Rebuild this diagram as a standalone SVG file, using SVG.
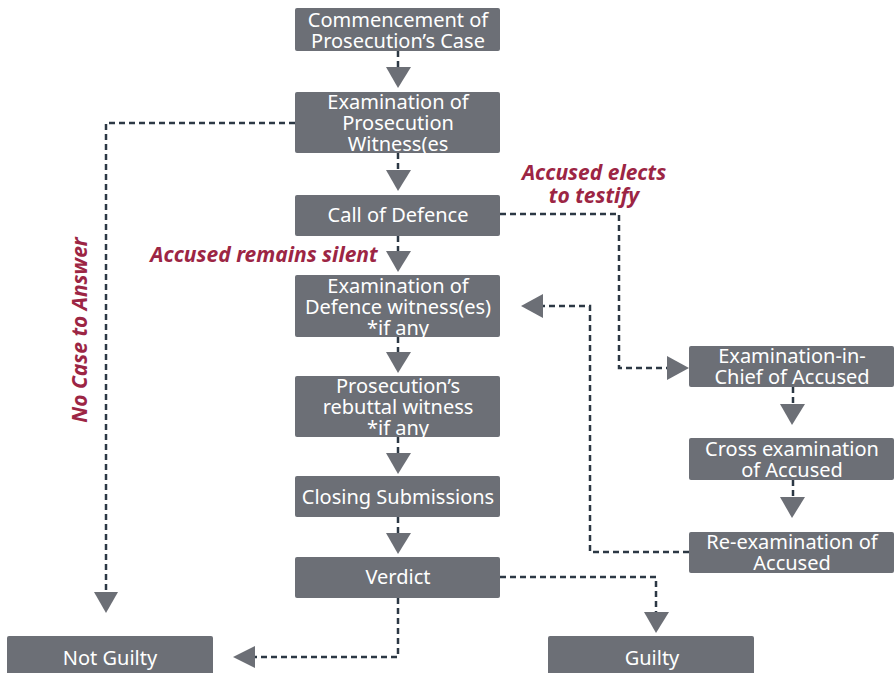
<svg xmlns="http://www.w3.org/2000/svg" width="894" height="673" viewBox="0 0 894 673">
<style>
.box{fill:#6c6f76}
.t{font-family:"Noto Sans","Open Sans",sans-serif;font-size:20px;fill:#fff;text-anchor:middle}
.c{fill:none;stroke:#2c3844;stroke-width:2.5;stroke-dasharray:6 4}
.a{fill:#6c6f76}
.lab{font-family:"Noto Sans","Open Sans",sans-serif;font-size:21px;font-weight:bold;font-style:italic;fill:#9c2544;text-anchor:middle}
</style>
<rect width="894" height="673" fill="#fff"/>
<g id="connectors">
<path class="c" d="M398 51V67"/><polygon class="a" points="386,67 411,67 398,88"/>
<path class="c" d="M398 153V170"/><polygon class="a" points="386,170 411,170 398,191"/>
<path class="c" d="M398 236V251"/><polygon class="a" points="386,251 411,251 398,272"/>
<path class="c" d="M398 337V352"/><polygon class="a" points="386,352 411,352 398,373"/>
<path class="c" d="M398 437V453"/><polygon class="a" points="386,453 411,453 398,474"/>
<path class="c" d="M398 517V533"/><polygon class="a" points="386,533 411,533 398,554"/>
<path class="c" d="M295 123H106V592"/><polygon class="a" points="94,592 118,592 106,613"/>
<path class="c" d="M500 214H619V368H667"/><polygon class="a" points="667,356 667,380 689,368"/>
<path class="c" d="M793 387V404"/><polygon class="a" points="780,404 805,404 792,425"/>
<path class="c" d="M793 480V497"/><polygon class="a" points="780,497 805,497 792,518"/>
<path class="c" d="M689 552H590V306H543"/><polygon class="a" points="543,294 543,318 521,306"/>
<path class="c" d="M500 577H656V612"/><polygon class="a" points="644,612 669,612 656,633"/>
<path class="c" d="M398 598V657H255"/><polygon class="a" points="255,646 255,668 233,657"/>
</g>
<g id="n1"><rect class="box" x="295" y="8" width="205" height="43" rx="2"/><text class="t" x="398" y="27">Commencement of</text><text class="t" x="398" y="48">Prosecution’s Case</text></g>
<g id="n2"><rect class="box" x="295" y="92" width="205" height="61" rx="2"/><text class="t" x="398" y="109">Examination of</text><text class="t" x="398" y="130">Prosecution</text><text class="t" x="398" y="151">Witness(es</text></g>
<g id="n3"><rect class="box" x="295" y="195" width="205" height="41" rx="2"/><text class="t" x="398" y="222">Call of Defence</text></g>
<g id="n4"><rect class="box" x="295" y="275" width="205" height="62" rx="2"/><text class="t" x="398" y="293">Examination of</text><text class="t" x="398" y="314">Defence witness(es)</text><text class="t" x="398" y="335">*if any</text></g>
<g id="n5"><rect class="box" x="295" y="376" width="205" height="61" rx="2"/><text class="t" x="398" y="393">Prosecution’s</text><text class="t" x="398" y="414">rebuttal witness</text><text class="t" x="398" y="435">*if any</text></g>
<g id="n6"><rect class="box" x="295" y="476" width="205" height="41" rx="2"/><text class="t" x="398" y="504">Closing Submissions</text></g>
<g id="n7"><rect class="box" x="295" y="557" width="205" height="41" rx="2"/><text class="t" x="398" y="584">Verdict</text></g>
<g id="n8"><rect class="box" x="7" y="636" width="206" height="50" rx="2"/><text class="t" x="110" y="665">Not Guilty</text></g>
<g id="n9"><rect class="box" x="548" y="636" width="206" height="50" rx="2"/><text class="t" x="652" y="665">Guilty</text></g>
<g id="n10"><rect class="box" x="689" y="346" width="205" height="41" rx="2"/><text class="t" x="792" y="363">Examination-in-</text><text class="t" x="792" y="384">Chief of Accused</text></g>
<g id="n11"><rect class="box" x="689" y="438" width="205" height="42" rx="2"/><text class="t" x="792" y="456">Cross examination</text><text class="t" x="792" y="477">of Accused</text></g>
<g id="n12"><rect class="box" x="689" y="532" width="205" height="41" rx="2"/><text class="t" x="792" y="549">Re-examination of</text><text class="t" x="792" y="570">Accused</text></g>
<g id="labels">
<text class="lab" x="594" y="180">Accused elects</text>
<text class="lab" x="594" y="203">to testify</text>
<text class="lab" x="264" y="262">Accused remains silent</text>
<text class="lab" transform="translate(87 330) rotate(-90)">No Case to Answer</text>
</g>
</svg>
